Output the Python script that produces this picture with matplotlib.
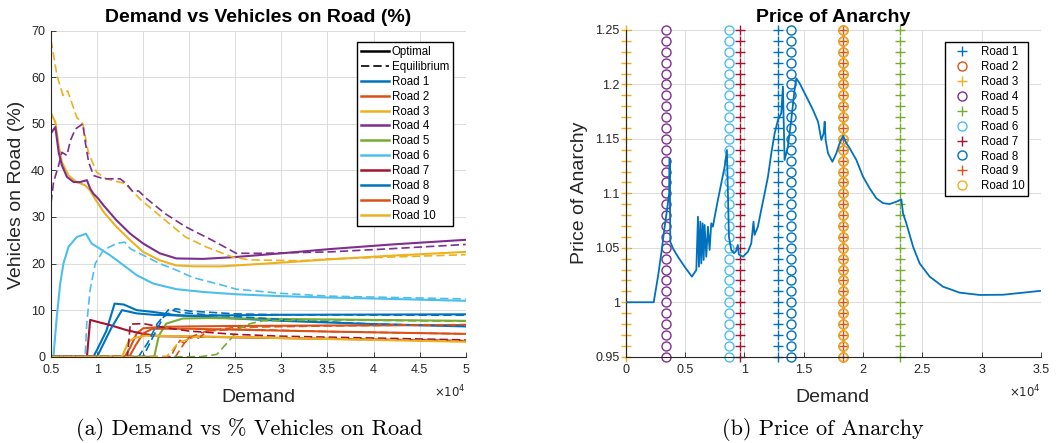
import matplotlib
matplotlib.use('Agg')
import matplotlib.pyplot as plt
from matplotlib.lines import Line2D
from matplotlib.ticker import FuncFormatter

W, H = 1059, 443
plt.rcParams['font.family'] = ['Liberation Sans', 'DejaVu Sans']

# ---------------- data (demand in units of 1e4) ----------------
road_names = ['Road 1', 'Road 2', 'Road 3', 'Road 4', 'Road 5',
              'Road 6', 'Road 7', 'Road 8', 'Road 9', 'Road 10']
road_colors = ['#0072BD', '#D95319', '#EDB120', '#7E2F8E', '#77AC30',
               '#4DBEEE', '#A2142F', '#0072BD', '#D95319', '#EDB120']

# Optimal (solid)
r1_opt_d = [0.5, 0.96, 1.0, 1.1, 1.19, 1.29, 1.43, 1.61, 1.86, 2.5, 3.0, 4.0, 5.0]
r1_opt_v = [0, 0, 1.5, 5.5, 11.4, 11.2, 10.0, 9.6, 8.9, 8.2, 7.7, 7.0, 6.5]
r2_opt_d = [0.5, 1.3, 1.36, 1.43, 1.5, 1.7, 2.0, 2.5, 3.5, 5.0]
r2_opt_v = [0, 0, 2.0, 5.0, 6.1, 6.4, 6.5, 6.6, 6.7, 6.8]
r3_opt_d = [0.5, 0.547, 0.583, 0.618, 0.69, 0.78, 0.87, 0.925, 0.965, 1.07, 1.21,
            1.36, 1.5, 1.68, 1.86, 2.05, 2.35, 2.51, 3.0, 3.52, 4.2, 5.0]
r3_opt_v = [52.3, 50.4, 45.4, 41.8, 38.9, 37.5, 36.8, 35.7, 34.3, 31.1, 27.9,
            25.0, 22.5, 20.7, 19.6, 19.4, 19.4, 19.6, 20.2, 20.9, 21.7, 22.5]
r4_opt_d = [0.5, 0.547, 0.583, 0.618, 0.673, 0.745, 0.815, 0.89, 0.925, 0.96, 1.015,
            1.07, 1.21, 1.36, 1.5, 1.68, 1.86, 2.15, 2.5, 3.0, 3.52, 4.2, 5.0]
r4_opt_v = [48.0, 49.3, 43.9, 41.1, 38.6, 37.5, 37.5, 37.9, 36.1, 35.0, 33.9,
            32.5, 29.3, 26.4, 24.3, 22.2, 21.1, 21.0, 21.4, 22.2, 23.1, 24.1, 25.1]
r5_opt_d = [0.5, 1.62, 1.67, 1.75, 1.93, 2.2, 3.0, 4.0, 5.0]
r5_opt_v = [0, 0, 4.5, 7.1, 8.2, 8.3, 8.1, 7.9, 7.7]
r6_opt_d = [0.5, 0.526, 0.563, 0.6, 0.635, 0.69, 0.78, 0.88, 0.94, 1.03, 1.14,
            1.29, 1.43, 1.61, 1.86, 2.15, 2.51, 3.0, 3.52, 4.2, 5.0]
r6_opt_v = [0, 0, 8.6, 15.7, 20.0, 23.6, 25.7, 26.4, 24.3, 23.2, 21.8,
            19.6, 17.5, 15.7, 14.5, 13.9, 13.4, 13.0, 12.7, 12.4, 12.0]
r7_opt_d = [0.5, 0.89, 0.925, 1.0, 1.14, 1.32, 1.5, 1.68, 2.08, 3.0, 4.0, 5.0]
r7_opt_v = [0, 0, 7.9, 7.5, 6.8, 5.7, 4.9, 4.4, 4.3, 4.0, 3.7, 3.4]
r8_opt_d = [0.5, 1.0, 1.05, 1.15, 1.27, 1.43, 1.61, 2.0, 3.0, 5.0]
r8_opt_v = [0, 0, 2.0, 6.0, 10.0, 9.3, 9.0, 8.8, 9.0, 9.1]
r9_opt_d = [0.5, 1.35, 1.42, 1.5, 1.6, 2.0, 2.5, 3.5, 5.0]
r9_opt_v = [0, 0, 2.5, 5.0, 6.0, 6.0, 5.8, 5.4, 4.9]
r10_opt_d = [0.5, 1.27, 1.34, 1.4, 1.52, 1.95, 2.5, 3.0, 4.0, 5.0]
r10_opt_v = [0, 0, 3.2, 4.0, 4.5, 4.4, 4.2, 4.0, 3.6, 3.2]

# Equilibrium (dashed)
r1_eq_d = [0.5, 1.45, 1.55, 1.65, 1.78, 1.9, 2.2, 3.0, 4.0, 5.0]
r1_eq_v = [0, 0, 3.0, 7.0, 10.2, 9.5, 9.0, 8.0, 7.0, 6.6]
r2_eq_d = [0.5, 1.85, 1.9, 1.95, 2.05, 2.2, 2.5, 3.5, 5.0]
r2_eq_v = [0, 0, 1.5, 3.0, 4.5, 5.6, 6.3, 6.6, 6.9]
r3_eq_d = [0.5, 0.565, 0.63, 0.68, 0.78, 0.845, 0.905, 0.995, 1.1, 1.3, 1.48,
           1.74, 1.96, 2.18, 2.47, 2.65, 3.2, 3.52, 4.2, 5.0]
r3_eq_v = [68.0, 60.4, 56.1, 57.1, 51.4, 50.0, 43.9, 39.6, 38.2, 37.2, 33.6,
           29.3, 25.7, 23.6, 21.4, 20.8, 20.6, 21.0, 21.4, 21.9]
r4_eq_d = [0.5, 0.528, 0.583, 0.618, 0.673, 0.71, 0.765, 0.845, 0.872, 0.908, 0.962,
           1.07, 1.25, 1.32, 1.39, 1.45, 1.54, 1.74, 1.96, 2.25, 2.51, 2.8, 3.52, 4.2, 5.0]
r4_eq_v = [33.0, 37.5, 41.1, 43.9, 43.2, 46.4, 48.9, 50.0, 46.1, 41.8, 38.9,
           38.2, 38.2, 37.1, 35.4, 35.6, 33.9, 30.7, 27.9, 25.0, 22.2, 22.2, 22.5, 23.2, 24.1]
r5_eq_d = [0.5, 2.12, 2.3, 2.44, 2.55, 2.66, 2.8, 3.5, 5.0]
r5_eq_v = [0, 0, 0.5, 3.6, 6.1, 7.1, 7.7, 7.9, 7.6]
r6_eq_d = [0.5, 0.87, 0.888, 0.924, 0.98, 1.07, 1.21, 1.3, 1.36, 1.5, 1.68,
           1.86, 2.04, 2.37, 2.51, 3.0, 3.52, 5.0]
r6_eq_v = [0, 0, 7.1, 14.3, 20.0, 22.9, 24.3, 24.6, 23.2, 21.8, 20.0,
           18.6, 17.0, 15.3, 14.5, 13.6, 13.0, 12.4]
r7_eq_d = [0.5, 1.33, 1.36, 1.5, 1.75, 2.0, 2.5, 3.0, 4.0, 5.0]
r7_eq_v = [0, 0, 7.0, 7.1, 6.2, 5.5, 4.8, 4.4, 4.0, 3.6]
r8_eq_d = [0.5, 1.5, 1.6, 1.72, 1.85, 2.0, 2.5, 3.0, 5.0]
r8_eq_v = [0, 0, 4.0, 8.5, 10.3, 9.8, 9.2, 9.0, 8.9]
r9_eq_d = [0.5, 1.8, 1.85, 1.9, 1.95, 2.0, 2.1, 2.2, 2.5, 3.5, 5.0]
r9_eq_v = [0, 0, 2.0, 3.5, 2.8, 4.2, 4.0, 5.5, 5.9, 5.4, 4.9]
r10_eq_d = [0.5, 1.75, 1.8, 1.88, 1.95, 2.05, 2.5, 3.0, 4.0, 5.0]
r10_eq_v = [0, 0, 1.0, 3.0, 3.5, 4.2, 4.3, 4.1, 3.7, 3.3]

# Price of anarchy curve
poa_d = [0.0, 0.236, 0.272, 0.300, 0.328, 0.356, 0.366, 0.3705, 0.376, 0.398, 0.440,
         0.497, 0.558, 0.595, 0.609, 0.617, 0.629, 0.637, 0.648, 0.657, 0.665, 0.679,
         0.693, 0.707, 0.721, 0.735, 0.750, 0.777, 0.805, 0.834, 0.853, 0.870, 0.890,
         0.913, 0.930, 0.945, 0.953, 0.988, 1.030, 1.058, 1.077, 1.086, 1.114, 1.142,
         1.171, 1.199, 1.227, 1.255, 1.283, 1.311, 1.325, 1.339, 1.367, 1.395, 1.423,
         1.438, 1.466, 1.523, 1.579, 1.621, 1.649, 1.668, 1.677, 1.685, 1.705, 1.742,
         1.775, 1.803, 1.832, 1.860, 1.888, 1.944, 2.000, 2.056, 2.112, 2.169, 2.225,
         2.281, 2.323, 2.337, 2.365, 2.422, 2.477, 2.562, 2.674, 2.815, 2.983, 3.18, 3.5]
poa_v = [1.0, 1.0, 1.0235, 1.045, 1.069, 1.091, 1.100, 1.132, 1.0556, 1.0495, 1.0418,
         1.0326, 1.0235, 1.0296, 1.0786, 1.0326, 1.074, 1.0357, 1.0725, 1.0388, 1.071, 1.0418,
         1.0694, 1.048, 1.0725, 1.0694, 1.0786, 1.0939, 1.109, 1.1245, 1.1398, 1.060, 1.048,
         1.045, 1.047, 1.0526, 1.044, 1.0418, 1.0464, 1.054, 1.074, 1.0618, 1.0694, 1.0847,
         1.100, 1.1153, 1.1368, 1.155, 1.1673, 1.1735, 1.198, 1.1306, 1.143, 1.1673, 1.195,
         1.2056, 1.201, 1.1888, 1.1765, 1.1658, 1.149, 1.155, 1.1658, 1.149, 1.1368, 1.129,
         1.1368, 1.146, 1.1527, 1.146, 1.1414, 1.1306, 1.1153, 1.1046, 1.0955, 1.091, 1.0902,
         1.0923, 1.0945, 1.0817, 1.0725, 1.051, 1.0357, 1.0235, 1.0143, 1.0088, 1.0067, 1.0069, 1.0105]

# demand at which each road ... (vertical marker columns)
marker_demand = [1.283, 1.832, 0.0, 0.342, 2.315, 0.870, 0.966, 1.390, 1.832, 1.832]
marker_style = ['+', 'o', '+', 'o', '+', 'o', '+', 'o', '+', 'o']
marker_levels = [0.95, 0.96, 0.97, 0.98, 0.99, 1.00, 1.01, 1.02, 1.03, 1.04, 1.05,
                 1.06, 1.07, 1.08, 1.09, 1.10, 1.11, 1.12, 1.13, 1.14, 1.15, 1.16,
                 1.17, 1.18, 1.19, 1.20, 1.21, 1.22, 1.23, 1.24, 1.25]

left_xticks = [0.5, 1, 1.5, 2, 2.5, 3, 3.5, 4, 4.5, 5]
left_yticks = [0, 10, 20, 30, 40, 50, 60, 70]
right_xticks = [0, 0.5, 1, 1.5, 2, 2.5, 3, 3.5]
right_yticks = [0.95, 1.0, 1.05, 1.1, 1.15, 1.2, 1.25]

opt_d = [r1_opt_d, r2_opt_d, r3_opt_d, r4_opt_d, r5_opt_d, r6_opt_d, r7_opt_d, r8_opt_d, r9_opt_d, r10_opt_d]
opt_v = [r1_opt_v, r2_opt_v, r3_opt_v, r4_opt_v, r5_opt_v, r6_opt_v, r7_opt_v, r8_opt_v, r9_opt_v, r10_opt_v]
eq_d = [r1_eq_d, r2_eq_d, r3_eq_d, r4_eq_d, r5_eq_d, r6_eq_d, r7_eq_d, r8_eq_d, r9_eq_d, r10_eq_d]
eq_v = [r1_eq_v, r2_eq_v, r3_eq_v, r4_eq_v, r5_eq_v, r6_eq_v, r7_eq_v, r8_eq_v, r9_eq_v, r10_eq_v]

# ---------------- figure ----------------
fig = plt.figure(figsize=(W / 100, H / 100), dpi=100)
TXT = '#262626'


def px_axes(x0, y0, x1, y1):
    return fig.add_axes([x0 / W, 1 - y1 / H, (x1 - x0) / W, (y1 - y0) / H])


def ftext(px, py, s, **kw):
    fig.text(px / W, 1 - py / H, s, **kw)


def style_axes(ax):
    for s in ['top', 'right']:
        ax.spines[s].set_visible(False)
    for s in ['left', 'bottom']:
        ax.spines[s].set_color(TXT)
        ax.spines[s].set_linewidth(0.8)
    ax.grid(True, color='#dcdcdc', linewidth=0.7)
    ax.set_axisbelow(True)
    ax.tick_params(direction='in', length=3.5, width=0.6, color=TXT,
                   labelcolor=TXT, labelsize=9)
    ax.tick_params(axis='x', pad=5.5)
    ax.tick_params(axis='y', pad=4.3)
    ax.xaxis.set_major_formatter(FuncFormatter(lambda v, p: '%g' % v))
    ax.yaxis.set_major_formatter(FuncFormatter(lambda v, p: '%g' % v))


# ----- left panel -----
ax1 = px_axes(51, 30.7, 465.7, 356.7)
style_axes(ax1)
for d, v, c in zip(opt_d, opt_v, road_colors):
    ax1.plot(d, v, color=c, lw=1.5, solid_joinstyle='round')
for d, v, c in zip(eq_d, eq_v, road_colors):
    ax1.plot(d, v, color=c, lw=1.2, dashes=(5, 2.4))
ax1.set_xlim(0.5, 5)
ax1.set_ylim(0, 70)
ax1.set_xticks(left_xticks)
ax1.set_yticks(left_yticks)

h1 = [Line2D([], [], color='black', lw=1.8), Line2D([], [], color='black', lw=1.2, dashes=(5, 2.4))]
h1 += [Line2D([], [], color=c, lw=1.8) for c in road_colors]
leg1 = ax1.legend(h1, ['Optimal', 'Equilibrium'] + road_names, loc='upper right',
                  bbox_to_anchor=(453.3 / W, 1 - 42 / H), bbox_transform=fig.transFigure,
                  borderaxespad=0, fontsize=8.3, labelspacing=0.25, handlelength=2.45,
                  handletextpad=0.25, borderpad=0.35, fancybox=False, framealpha=1)
leg1.get_frame().set_edgecolor('black')
leg1.get_frame().set_linewidth(1.0)

# ----- right panel -----
ax2 = px_axes(625.7, 30, 1041, 356.7)
style_axes(ax2)
for xd, mk, c in zip(marker_demand, marker_style, road_colors):
    ax2.plot([xd] * len(marker_levels), marker_levels, linestyle='none', marker=mk,
             ms=6.5, mec=c, mfc='none', mew=1.0, clip_on=False, zorder=2)
ax2.plot(poa_d, poa_v, color='#0072BD', lw=1.3, zorder=3)
ax2.set_xlim(0, 3.5)
ax2.set_ylim(0.95, 1.25)
ax2.set_xticks(right_xticks)
ax2.set_yticks(right_yticks)

h2 = [Line2D([], [], linestyle='none', marker=mk, ms=6.5, mec=c, mfc='none', mew=1.0)
      for mk, c in zip(marker_style, road_colors)]
leg2 = ax2.legend(h2, road_names, loc='upper right',
                  bbox_to_anchor=(1028.3 / W, 1 - 42.3 / H), bbox_transform=fig.transFigure,
                  borderaxespad=0, fontsize=8.3, labelspacing=0.25, handlelength=2.3,
                  handletextpad=0.45, borderpad=0.35, fancybox=False, framealpha=1)
leg2.get_frame().set_edgecolor('black')
leg2.get_frame().set_linewidth(1.0)

# ----- texts -----
ftext(258, 21.5, 'Demand vs Vehicles on Road (%)', ha='center', va='baseline',
      fontsize=14, fontweight='bold', color='black')
ftext(833.3, 21.5, 'Price of Anarchy', ha='center', va='baseline',
      fontsize=14, fontweight='bold', color='black')
ftext(258, 401.7, 'Demand', ha='center', va='baseline', fontsize=14, color=TXT)
ftext(832.5, 401.7, 'Demand', ha='center', va='baseline', fontsize=14, color=TXT)
ftext(17, 194.5, 'Vehicles on Road (%)', ha='center', va='center', rotation=90,
      fontsize=14, color=TXT)
ftext(580, 192.5, 'Price of Anarchy', ha='center', va='center', rotation=90,
      fontsize=14, color=TXT)
ftext(465.5, 397.3, '$\\times10^{4}$', ha='right', va='baseline', fontsize=8.5, color=TXT)
ftext(1040.5, 397.3, '$\\times10^{4}$', ha='right', va='baseline', fontsize=8.5, color=TXT)
ftext(249.5, 435, '(a) Demand vs % Vehicles on Road', ha='center', va='baseline',
      fontsize=16, family=['cmr10', 'DejaVu Serif'], color='black')
ftext(823.3, 435, '(b) Price of Anarchy', ha='center', va='baseline',
      fontsize=16, family=['cmr10', 'DejaVu Serif'], color='black')

fig.savefig('out.png', dpi=100)
